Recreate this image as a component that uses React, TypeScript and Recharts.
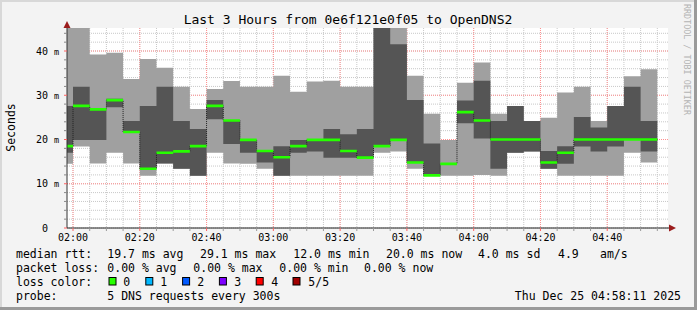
import { ComposedChart, Area, XAxis, YAxis, CartesianGrid } from "recharts";

// minutes relative to 02:00, one sample per 5 min step (first is the partial step)
const STEP_START = [-1.8, 0, 5, 10, 15, 20, 25, 30, 35, 40, 45, 50, 55, 60, 65, 70, 75, 80, 85, 90, 95, 100, 105, 110, 115, 120, 125, 130, 135, 140, 145, 150, 155, 160, 165, 170];
const LAST_STEP_END = 175;

// smoke: outer (light) and inner (dark) ping ranges, in ms
const LIGHT_LO = [14.5, 18.4, 14.6, 17.0, 14.6, 11.8, 14.6, 13.4, 11.8, 17.0, 14.6, 14.5, 13.4, 11.8, 11.8, 11.8, 11.8, 11.8, 11.8, 17.0, 17.3, 13.4, 11.9, 11.8, 11.8, 12.0, 11.8, 17.0, 17.3, 13.4, 11.8, 11.8, 11.8, 11.8, 17.0, 14.8];
const LIGHT_HI = [46, 46, 39.2, 39.6, 33.7, 38.2, 36.2, 31.9, 26.9, 31.4, 33.2, 31.9, 31.9, 34.4, 30.8, 33.1, 33.3, 31.9, 31.9, 46, 46, 34.4, 25.8, 19.9, 32.8, 37.4, 25.8, 27.6, 24.2, 24.9, 30.6, 31.9, 24.2, 27.6, 34.3, 35.9];
const DARK_LO = [17.0, 19.9, 19.9, 27.3, 21.7, 13.4, 14.6, 13.4, 11.8, 24.6, 19.0, 17.0, 14.8, 11.8, 17.0, 17.3, 15.9, 15.9, 15.9, 18.5, 19.9, 14.8, 11.9, 14.5, 23.7, 20.2, 13.4, 17.0, 17.3, 13.4, 14.5, 18.4, 17.3, 18.4, 20.0, 17.3];
const DARK_HI = [27.6, 31.9, 26.8, 29.2, 24.2, 27.6, 31.9, 24.2, 22.4, 28.9, 24.3, 19.9, 17.4, 18.5, 19.9, 19.9, 22.4, 21.2, 22.4, 46, 41.5, 28.9, 19.1, 14.5, 28.8, 33.3, 24.2, 27.6, 24.2, 17.4, 18.5, 25.1, 22.7, 27.6, 31.9, 24.2];
const MEDIAN = [18.5, 27.6, 26.8, 28.9, 21.7, 13.4, 17.0, 17.3, 18.5, 27.6, 24.3, 19.9, 17.4, 16.0, 18.5, 19.9, 19.9, 17.4, 15.9, 18.5, 19.9, 14.8, 11.9, 14.5, 26.2, 24.3, 20.0, 20.0, 20.0, 14.8, 17.0, 20.0, 20.0, 20.0, 20.0, 20.0];

const MAJOR_X = [0, 20, 40, 60, 80, 100, 120, 140, 160];
const X_LABELS = ["02:00", "02:20", "02:40", "03:00", "03:20", "03:40", "04:00", "04:20", "04:40"];
const MINOR_X = Array.from({ length: 36 }, (_, i) => i * 5);
const MAJOR_Y = [0, 10, 20, 30, 40];
const MINOR_Y = Array.from({ length: 23 }, (_, i) => i * 2);

const LOSS_COLORS = ["#26ff00", "#00b8ff", "#0059ff", "#7e00ff", "#ff0000", "#a10000"];
const LOSS_LABELS = ["0", "1", "2", "3", "4", "5/5"];

const rows = STEP_START.map((t, i) => ({
  t,
  light: [LIGHT_LO[i], LIGHT_HI[i]],
  dark: [DARK_LO[i], DARK_HI[i]],
  med: MEDIAN[i],
  band: [MEDIAN[i] - 0.3, MEDIAN[i] + 0.3],
}));
const data = [...rows, { ...rows[rows.length - 1], t: LAST_STEP_END }];

const FONT = '"DejaVu Sans Mono", monospace';

function YTick(props: any) {
  const { x, y, payload } = props;
  const v = payload.value;
  const major = v % 10 === 0;
  return (
    <g>
      <line x1={x - 3} x2={x} y1={y} y2={y} stroke={major ? "#ff6060" : "#888"} />
      {major && (
        <text x={x - 19} y={y + 3.6} textAnchor="end" fontSize={10} fontFamily={FONT} fill="#000">
          {v}
        </text>
      )}
      {major && v > 0 && (
        <text x={x - 13} y={y + 3.6} fontSize={8.5} fontFamily={FONT} fill="#000">
          m
        </text>
      )}
    </g>
  );
}

function XTick(props: any) {
  const { x, y, payload } = props;
  const v = payload.value;
  const idx = MAJOR_X.indexOf(v);
  return (
    <g>
      <line x1={x} x2={x} y1={y} y2={y + 3} stroke={idx >= 0 ? "#ff6060" : "#999"} />
      {idx >= 0 && (
        <text x={x} y={y + 13} textAnchor="middle" fontSize={10} fontFamily={FONT} fill="#000">
          {X_LABELS[idx]}
        </text>
      )}
    </g>
  );
}

export default function App() {
  const rowY = [257.5, 271.5, 285.5, 299.5];
  return (
    <div style={{ position: "absolute", left: 0, top: 0, width: 697, height: 310, background: "#f3f3f3", overflow: "hidden" }}>
      <div style={{ position: "absolute", left: 0, top: 0 }}>
        <ComposedChart width={697} height={310} data={data} margin={{ top: 28, right: 29, bottom: 62, left: 7 }}>
          <CartesianGrid fill="#ffffff" stroke="#c8c8c8" strokeDasharray="1 1" verticalValues={MINOR_X} horizontalValues={MINOR_Y} />
          <CartesianGrid stroke="#ff9090" strokeDasharray="1 1" verticalValues={MAJOR_X} horizontalValues={MAJOR_Y.slice(1)} />
          <XAxis
            dataKey="t"
            type="number"
            domain={[-1.8, 178.2]}
            ticks={MINOR_X}
            interval={0}
            allowDataOverflow
            height={20}
            tickSize={0}
            tickMargin={0}
            tickLine={false}
            axisLine={{ stroke: "#222" }}
            tick={<XTick />}
          />
          <YAxis
            type="number"
            domain={[0, 45.2]}
            ticks={MINOR_Y}
            interval={0}
            allowDataOverflow
            width={60}
            tickSize={0}
            tickMargin={0}
            tickLine={false}
            axisLine={{ stroke: "#333" }}
            tick={<YTick />}
          />
          <Area dataKey="light" type="stepAfter" fill="#a0a0a0" fillOpacity={1} stroke="none" isAnimationActive={false} />
          <Area dataKey="dark" type="stepAfter" fill="#555555" fillOpacity={1} stroke="none" isAnimationActive={false} />
          <Area dataKey="med" type="stepAfter" fill="none" fillOpacity={0} stroke="#202020" strokeDasharray="1 1" strokeWidth={1} dot={false} activeDot={false} isAnimationActive={false} />
          <Area dataKey="band" type="stepAfter" fill="#26ff00" fillOpacity={1} stroke="none" isAnimationActive={false} />
        </ComposedChart>
      </div>
      <svg width={697} height={310} style={{ position: "absolute", left: 0, top: 0, pointerEvents: "none" }} fontFamily={FONT}>
        <rect x={0} y={0} width={697} height={2} fill="#d8d8d8" />
        <rect x={0} y={0} width={2} height={310} fill="#d8d8d8" />
        <rect x={694} y={0} width={3} height={310} fill="#9a9a9a" />
        <rect x={0} y={307} width={697} height={3} fill="#9a9a9a" />
        <polygon points="67,21 63.5,28 70.5,28" fill="#9b1c1c" />
        <line x1={668} x2={670} y1={228} y2={228} stroke="#222" />
        <polygon points="676,228 669,224.5 669,231.5" fill="#9b1c1c" />
        <text x={348} y={23.5} textAnchor="middle" fontSize={13} fill="#000">
          Last 3 Hours from 0e6f121e0f05 to OpenDNS2
        </text>
        <text transform="translate(15,127.5) rotate(-90)" textAnchor="middle" fontSize={11.5} fill="#000">
          Seconds
        </text>
        <text transform="translate(684,4) rotate(90)" fontSize={8.4} fill="#b4b4b4">
          RRDTOOL / TOBI OETIKER
        </text>
        <g fontSize={11.5} fill="#000">
          <text x={16} y={rowY[0]}>median rtt:</text>
          <text x={107.3} y={rowY[0]}>19.7 ms avg</text>
          <text x={200} y={rowY[0]}>29.1 ms max</text>
          <text x={293.3} y={rowY[0]}>12.0 ms min</text>
          <text x={386} y={rowY[0]}>20.0 ms now</text>
          <text x={478} y={rowY[0]}>4.0 ms sd</text>
          <text x={558} y={rowY[0]}>4.9</text>
          <text x={600} y={rowY[0]}>am/s</text>

          <text x={16} y={rowY[1]}>packet loss:</text>
          <text x={107.3} y={rowY[1]}>0.00 % avg</text>
          <text x={193.3} y={rowY[1]}>0.00 % max</text>
          <text x={279.3} y={rowY[1]}>0.00 % min</text>
          <text x={364} y={rowY[1]}>0.00 % now</text>

          <text x={16} y={rowY[2]}>loss color:</text>
          {LOSS_COLORS.map((c, i) => (
            <g key={i}>
              <rect x={109 + i * 36.8} y={277.5} width={7} height={7.5} fill={c} stroke="#000" strokeWidth={1} />
              <text x={123.3 + i * 37} y={rowY[2]}>{LOSS_LABELS[i]}</text>
            </g>
          ))}

          <text x={16} y={rowY[3]}>probe:</text>
          <text x={107.3} y={rowY[3]}>5 DNS requests every 300s</text>
          <text x={681} y={rowY[3]} textAnchor="end">Thu Dec 25 04:58:11 2025</text>
        </g>
      </svg>
    </div>
  );
}
